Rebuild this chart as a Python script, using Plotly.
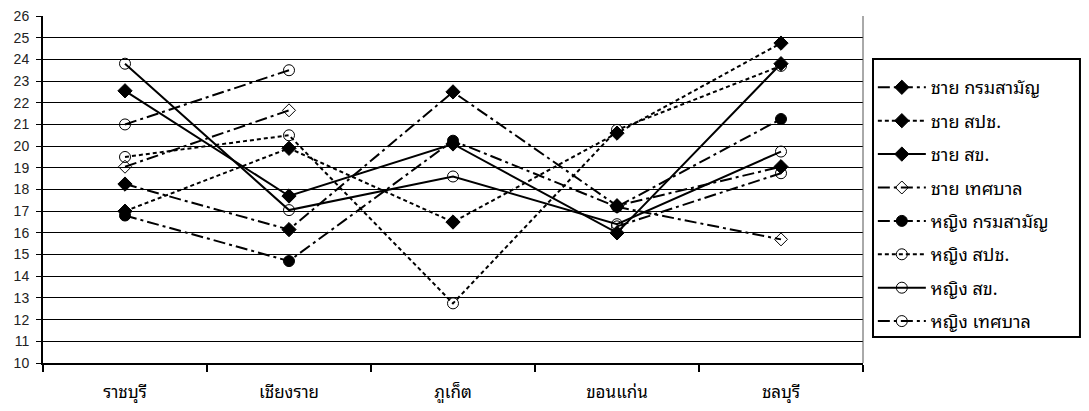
import plotly.graph_objects as go

categories = ["ราชบุรี", "เชียงราย", "ภูเก็ต", "ขอนแก่น", "ชลบุรี"]

series_names = [
    "ชาย กรมสามัญ", "ชาย สปช.", "ชาย สข.", "ชาย เทศบาล",
    "หญิง กรมสามัญ", "หญิง สปช.", "หญิง สข.", "หญิง เทศบาล",
]

male_dept = [18.25, 16.15, 22.5, 17.25, 19.05]
male_spc = [17.0, 19.9, 16.5, 20.6, 24.75]
male_sk = [22.55, 17.7, 20.1, 16.0, 23.8]
male_muni = [19.05, 21.65, None, 17.2, 15.7]
female_dept = [16.8, 14.7, 20.25, 17.2, 21.25]
female_spc = [19.5, 20.5, 12.75, 20.75, 23.7]
female_sk = [23.8, 17.05, 18.6, 16.4, 19.75]
female_muni = [21.0, 23.5, None, 16.3, 18.75]

y_ticks = list(range(10, 27))

values = [male_dept, male_spc, male_sk, male_muni,
          female_dept, female_spc, female_sk, female_muni]

LDD = "12px,4px,3px,4px"
SD = "4px,3px"
styles = [
    (LDD, "diamond", 11),
    (SD, "diamond", 11),
    ("solid", "diamond", 11),
    (LDD, "diamond-open", 10),
    (LDD, "circle", 11),
    (SD, "circle-open", 11),
    ("solid", "circle-open", 11),
    (LDD, "circle-open", 11),
]

fig = go.Figure()
for i, (name, vals) in enumerate(zip(series_names, values)):
    dash, sym, size = styles[i]
    fig.add_trace(go.Scatter(
        x=categories, y=vals, name=name, mode="lines+markers",
        connectgaps=False, legendgroup=f"g{i}",
        line=dict(color="black", width=2, dash=dash),
        marker=dict(symbol=sym, size=size, color="black",
                    line=dict(color="black", width=1)),
    ))

# right edge of the plot area
fig.add_shape(type="line", xref="x domain", yref="y domain",
              x0=1, x1=1, y0=0, y1=1, line=dict(color="#555", width=1))
# legend frame
fig.add_shape(type="rect", xref="x domain", yref="y domain",
              x0=1.0122, x1=1.2646, y0=0.0747, y1=0.8764,
              line=dict(color="black", width=2), layer="below")

# the page has an 8px body margin; size the figure so the page does not overflow
fig.update_layout(
    width=1073, height=395,
    margin=dict(l=35, r=218, t=8, b=40),
    paper_bgcolor="white", plot_bgcolor="white",
    font=dict(family="Tahoma, 'Noto Sans Thai Looped', 'Noto Sans Thai', 'Noto Sans', 'DejaVu Sans', sans-serif", color="black"),
    showlegend=True,
    legend=dict(
        x=1.012, y=0.847, xanchor="left", yanchor="top",
        borderwidth=0, bgcolor="rgba(0,0,0,0)",
        font=dict(size=18), tracegroupgap=7, itemwidth=48,
        traceorder="grouped",
    ),
    xaxis=dict(
        type="category", showgrid=False, showline=True, linecolor="black",
        linewidth=2, ticks="outside", tickson="boundaries", ticklen=7,
        tickwidth=2, tickcolor="black", tickfont=dict(size=17),
        ticklabelstandoff=13, range=[-0.5, 4.5], automargin=False,
    ),
    yaxis=dict(
        range=[10, 26], tickvals=y_ticks, showgrid=True, gridcolor="black",
        gridwidth=1, showline=True, linecolor="black", linewidth=2,
        ticks="outside", ticklen=5, tickcolor="black",
        tickfont=dict(size=14, family="Liberation Sans, Arial, sans-serif", color="#222"),
        ticklabelstandoff=4, ticklabeloverflow="allow",
        zeroline=False, automargin=False,
    ),
)

fig.write_html("out.html")
